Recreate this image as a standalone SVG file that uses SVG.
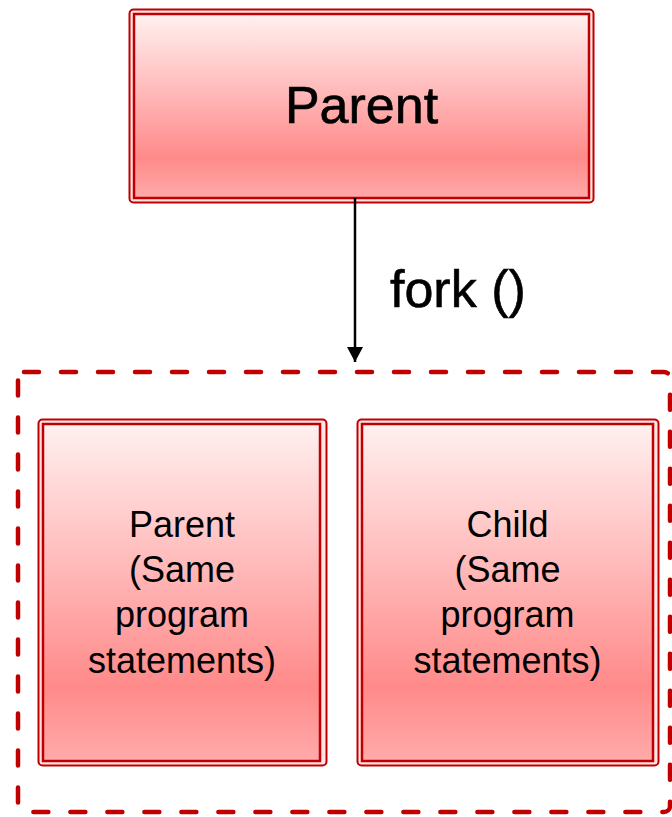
<svg xmlns="http://www.w3.org/2000/svg" width="672" height="817" viewBox="0 0 672 817">
<defs>
<linearGradient id="g" x1="0" y1="0" x2="0" y2="1">
<stop offset="0" stop-color="#fff0f0"/>
<stop offset="0.4" stop-color="#ffbcbc"/>
<stop offset="0.78" stop-color="#ff8a8a"/>
<stop offset="1" stop-color="#ffaaaa"/>
</linearGradient>
<marker id="ah" markerWidth="16" markerHeight="16" refX="15" refY="8" orient="auto" markerUnits="userSpaceOnUse" viewBox="0 0 16 16">
<path d="M0,0 L15,8 L0,16 Z" fill="#000"/>
</marker>
</defs>
<style>
.outer{fill:#ffe4e4;stroke:#c00000;stroke-width:2}
.inner{fill:url(#g);stroke:#c00000;stroke-width:2.5}
.big{font-family:"Liberation Sans",Arial,sans-serif;font-size:52px;fill:#000;stroke:#000;stroke-width:0.6}
.small{font-family:"Liberation Sans",Arial,sans-serif;font-size:36px;fill:#000;text-anchor:middle}
.dash{fill:none;stroke:#c00000;stroke-width:4.5;stroke-dasharray:15 22;stroke-linecap:round}
</style>
<rect id="container" class="dash" x="18" y="372" width="652" height="440" rx="6"/>
<g id="parent-top">
<rect class="outer" x="129.5" y="9.5" width="464" height="193" rx="4"/>
<rect class="inner" x="134" y="14" width="455" height="184"/>
<text class="big" x="361.5" y="123" text-anchor="middle">Parent</text>
</g>
<g id="parent-box">
<rect class="outer" x="38.5" y="419.5" width="288" height="346" rx="4"/>
<rect class="inner" x="43" y="424" width="277" height="337"/>
<text class="small"><tspan x="182" y="537">Parent</tspan><tspan x="182" y="582">(Same</tspan><tspan x="182" y="627">program</tspan><tspan x="182" y="673">statements)</tspan></text>
</g>
<g id="child-box">
<rect class="outer" x="357.5" y="419.5" width="301" height="346" rx="4"/>
<rect class="inner" x="362" y="424" width="291" height="337"/>
<text class="small"><tspan x="507.5" y="537">Child</tspan><tspan x="507.5" y="582">(Same</tspan><tspan x="507.5" y="627">program</tspan><tspan x="507.5" y="673">statements)</tspan></text>
</g>
<g id="connectors">
<line x1="355" y1="198" x2="355" y2="362" stroke="#000" stroke-width="2.5" marker-end="url(#ah)"/>
<text class="big" x="390" y="307">fork ()</text>
</g>
</svg>
